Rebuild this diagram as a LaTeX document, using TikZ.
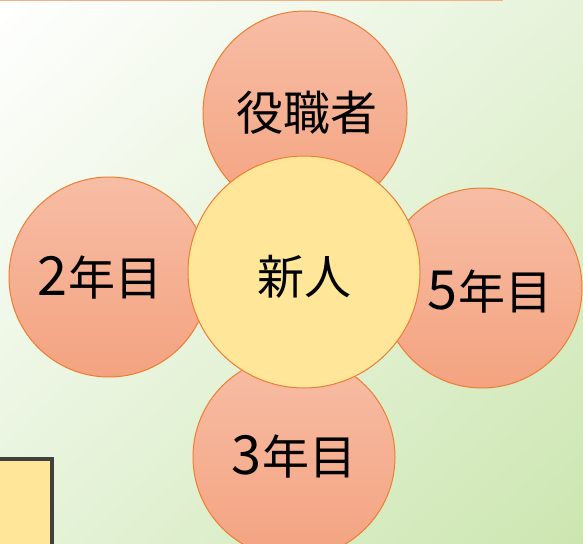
\documentclass[tikz,border=0pt]{standalone}
\usepackage{fontspec}
\usetikzlibrary{shadings}
\newfontfamily\jp{Noto Sans CJK JP}
\newcommand{\bigdigit}[1]{{\fontsize{54}{50}\selectfont #1}\hspace{2pt}}
\definecolor{bgA}{HTML}{FFFFFF}
\definecolor{bgB}{HTML}{E6F3DA}
\definecolor{bgC}{HTML}{CCE6B0}
\definecolor{ctop}{HTML}{F7BDA5}
\definecolor{cbot}{HTML}{F4A380}
\definecolor{cline}{HTML}{ED7D31}
\definecolor{yfill}{HTML}{FFE699}
\definecolor{topline}{HTML}{F4B183}
\definecolor{boxline}{HTML}{404040}
\tikzset{
  outer/.style={circle, draw=cline, line width=1pt, top color=ctop, bottom color=cbot, minimum size=#1, inner sep=0pt},
  inner/.style={circle, draw=cline, line width=1pt, fill=yfill, minimum size=#1, inner sep=0pt},
  lbl/.style={font=\jp\fontsize{47}{52}\selectfont, text=black, inner sep=0pt}
}
\begin{document}
\begin{tikzpicture}[x=1pt,y=-1pt]
\useasboundingbox (0,0) rectangle (583,543);
\shade[upper left=bgA, upper right=bgB, lower left=bgB, lower right=bgC] (0,0) rectangle (583,543);
\draw[topline, line width=2pt] (0,0.5) -- (503,0.5);
\draw[boxline, line width=4pt, fill=yfill] (-5,459) rectangle (52,560);
\node[outer=204pt] (top) at (305,113) {};
\node[outer=200pt] (left) at (109,277) {};
\node[outer=200pt] (right) at (482,288) {};
\node[outer=202pt] (bottom) at (294,457) {};
\node[inner=232pt] (center) at (304,272) {};
\node[lbl] (ttop) at (307,113) {役職者};
\node[lbl] (tleft) at (100,278) {\bigdigit{2}年目};
\node[lbl] (tright) at (490,292) {\bigdigit{5}年目};
\node[lbl] (tbottom) at (294,457) {\bigdigit{3}年目};
\node[lbl] (tcenter) at (304,277) {新人};
\end{tikzpicture}
\end{document}
